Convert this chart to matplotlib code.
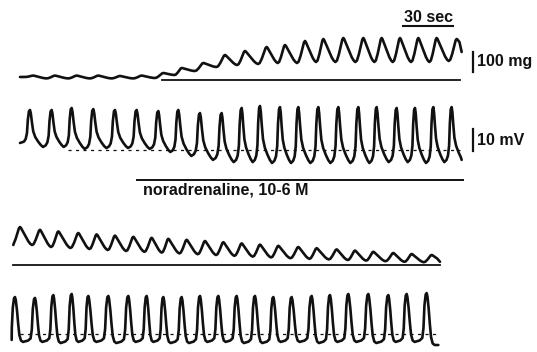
import matplotlib
matplotlib.use("Agg")
import matplotlib.pyplot as plt

plt.rcParams['font.family'] = ['Liberation Sans', 'DejaVu Sans']

# --- recording values (time in s, tension in mg, potential in mV) ---
# row 1: tension, noradrenaline added
tens1_start = (12, 15)
tens1_peak_t = [20, 33, 46, 59, 72, 85, 98, 109, 122, 135, 147, 160, 171, 183, 194, 206, 218, 229, 240, 251, 262, 274]
tens1_peak = [22, 22, 22, 22, 20, 22, 35, 60, 85, 125, 145, 165, 175, 195, 205, 210, 210, 210, 210, 210, 210, 205]
tens1_trough = [8, 8, 8, 8, 8, 10, 25, 45, 65, 75, 80, 85, 85, 90, 90, 90, 90, 90, 90, 90, 95]
tens1_end = (277, 140)

# row 2: membrane potential (relative to dotted reference)
volt1_start = (12, 3.2)
volt1_peak_t = [18, 31, 43, 56, 69, 82, 95, 107, 120, 133, 145, 156, 168, 179, 191, 203, 215, 226, 238, 249, 260, 271]
volt1_peak = [18.2, 18.2, 19.1, 18.6, 18.2, 18.2, 17.7, 18.2, 16.8, 16.8, 19.1, 20.0, 19.5, 19.5, 19.5, 19.5,
              19.5, 19.5, 19.1, 19.1, 19.5, 19.5]
volt1_trough = [1.4, 1.4, 0.5, 0.9, 0.9, 0.5, -0.9, -2.7, -4.5, -5.5, -5.5, -5.9, -5.9, -5.9, -5.9, -5.9,
                -5.9, -5.5, -5.5, -5.9, -5.5]
volt1_end = (277, -4.5)

# row 3: tension, wash-out
tens2_start = (8, 100)
tens2_peak_t = [12, 24, 35, 47, 58, 69, 80, 91, 101, 112, 123, 134, 145, 156, 167, 179, 190, 202, 213, 224, 236, 247, 259]
tens2_peak = [190, 176, 168, 160, 153, 147, 141, 136, 131, 126, 120, 114, 108, 102, 96, 90, 84, 78, 72, 66, 60, 55, 50]
tens2_trough = [100, 90, 85, 80, 75, 70, 66, 62, 58, 54, 50, 46, 42, 38, 34, 31, 28, 25, 22, 19, 16, 14]
tens2_end = (264, 16)

# row 4: membrane potential, wash-out
volt2_start = (7, -2.7)
volt2_peak_t = [9, 21, 32, 43, 53, 65, 77, 88, 98, 109, 120, 131, 142, 153, 164, 175, 187, 198, 209, 221, 233, 244, 256]
volt2_peak = [16.8, 16.4, 17.7, 18.2, 17.3, 17.3, 17.3, 17.3, 16.8, 16.8, 17.3, 17.3, 17.3, 17.3, 16.8, 16.8,
              17.3, 17.7, 18.2, 18.2, 17.7, 18.2, 18.6]
volt2_trough = [-3.6, -3.6, -4.1, -3.6, -3.6, -4.1, -3.6, -3.6, -4.1, -4.1, -3.6, -3.6, -4.1, -4.1, -3.6, -3.6,
                -4.1, -3.6, -3.6, -4.1, -3.6, -3.6]
volt2_end = (263, -5.0)

drug_label = "noradrenaline, 10-6 M"
drug_on = (82, 278)
tens1_ref = (97, 276)
volt1_ref = (41, 276)
tens2_ref = (8, 264)
volt2_ref = (12, 264)
time_bar = 30      # sec
tens_bar = 100     # mg
volt_bar = 10      # mV

# cycle shapes: (phase of period, fraction of peak-to-trough)
TENS_FALL = [(0.04, 0.96), (0.14, 0.76), (0.28, 0.47), (0.42, 0.2), (0.52, 0.06), (0.6, 0.0)]
TENS_RISE = [(0.68, 0.06), (0.78, 0.33), (0.88, 0.7), (0.95, 0.94)]
ROW2_FALL = [(0.04, 0.9), (0.09, 0.66), (0.15, 0.42), (0.24, 0.27), (0.38, 0.14), (0.5, 0.05), (0.6, 0.0)]
ROW2_RISE = [(0.72, 0.04), (0.8, 0.12), (0.86, 0.3), (0.9, 0.7), (0.95, 0.96)]
ELEC_FALL = [(0.04, 0.93), (0.1, 0.7), (0.16, 0.4), (0.22, 0.15), (0.3, 0.03), (0.4, 0.0)]
ELEC_RISE = [(0.65, 0.03), (0.78, 0.08), (0.84, 0.28), (0.89, 0.75), (0.95, 0.97)]

SEC_PER_PX = 0.6
INK = '#111111'


def build_trace(start, pk_t, pk_v, tr_v, end, fall, rise):
    t, v = [start[0]], [start[1]]
    per0 = pk_t[1] - pk_t[0]
    for ph, fr in rise:
        tt = pk_t[0] - (1 - ph) * per0
        if tt > start[0]:
            t.append(tt)
            v.append(start[1] + fr * (pk_v[0] - start[1]))
    for i in range(len(pk_t)):
        t.append(pk_t[i])
        v.append(pk_v[i])
        if i < len(tr_v):
            per = pk_t[i + 1] - pk_t[i]
            lo = tr_v[i]
            for ph, fr in fall:
                t.append(pk_t[i] + ph * per)
                v.append(lo + fr * (pk_v[i] - lo))
            for ph, fr in rise:
                t.append(pk_t[i] + ph * per)
                v.append(lo + fr * (pk_v[i + 1] - lo))
    per = pk_t[-1] - pk_t[-2]
    for ph, fr in fall:
        tt = pk_t[-1] + ph * per
        if tt < end[0]:
            t.append(tt)
            v.append(end[1] + fr * (pk_v[-1] - end[1]))
    t.append(end[0])
    v.append(end[1])
    return t, v


fig = plt.figure(figsize=(5.37, 3.52), dpi=100)
H = 352.0


def band(top, bottom, ref_px, per_px):
    ax = fig.add_axes([0, 1 - bottom / H, 1, (bottom - top) / H])
    ax.set_xlim(0, 537 * SEC_PER_PX)
    ax.set_ylim((ref_px - bottom) * per_px, (ref_px - top) * per_px)
    ax.axis('off')
    return ax


ax1 = band(0, 88, 80, 5.0)
ax2 = band(88, 200, 150, 1 / 2.2)
ax3 = band(200, 272, 265, 5.0)
ax4 = band(272, 352, 334, 1 / 2.2)

kw = dict(color=INK, lw=1.9, solid_joinstyle='round', solid_capstyle='round')

t, v = build_trace(tens1_start, tens1_peak_t, tens1_peak, tens1_trough, tens1_end, TENS_FALL, TENS_RISE)
ax1.plot(t, v, **kw)
ax1.plot(tens1_ref, [0, 0], color=INK, lw=1.3)

t, v = build_trace(volt1_start, volt1_peak_t, volt1_peak, volt1_trough, volt1_end, ROW2_FALL, ROW2_RISE)
ax2.plot(t, v, **kw)
ax2.plot(volt1_ref, [0, 0], color=INK, lw=0.9, ls=(0, (2.5, 3.5)))

t, v = build_trace(tens2_start, tens2_peak_t, tens2_peak, tens2_trough, tens2_end, TENS_FALL, TENS_RISE)
ax3.plot(t, v, **kw)
ax3.plot(tens2_ref, [0, 0], color=INK, lw=1.3)

t, v = build_trace(volt2_start, volt2_peak_t, volt2_peak, volt2_trough, volt2_end, ELEC_FALL, ELEC_RISE)
ax4.plot(t, v, **kw)
ax4.plot(volt2_ref, [0, 0], color=INK, lw=0.9, ls=(0, (2.5, 3.5)))

# drug application bar
ax2.plot(drug_on, [-13.6, -13.6], color=INK, lw=1.4)
ax2.text(drug_on[0] + 3.6, -18.2, drug_label, fontsize=11.5, fontweight='bold', color=INK,
         ha='left', va='center')

# time calibration
tb0 = 242
ax1.plot([tb0, tb0 + time_bar], [272, 272], color=INK, lw=1.5)
ax1.text(tb0 + time_bar / 2, 312, f"{time_bar} sec", fontsize=11.5, fontweight='bold', color=INK,
         ha='center', va='center')

# tension and voltage calibration
xb = 473 * SEC_PER_PX
ax1.plot([xb, xb], [40, 40 + tens_bar], color=INK, lw=1.6)
ax1.text(xb + 2.4, 40 + tens_bar / 2 + 4, f"{tens_bar} mg", fontsize=11.5, fontweight='bold', color=INK,
         ha='left', va='center')
ax2.plot([xb, xb], [-0.5, -0.5 + volt_bar], color=INK, lw=1.6)
ax2.text(xb + 2.4, -0.5 + volt_bar / 2, f"{volt_bar} mV", fontsize=11.5, fontweight='bold', color=INK,
         ha='left', va='center')

fig.savefig("out.png", dpi=100, facecolor='white')
